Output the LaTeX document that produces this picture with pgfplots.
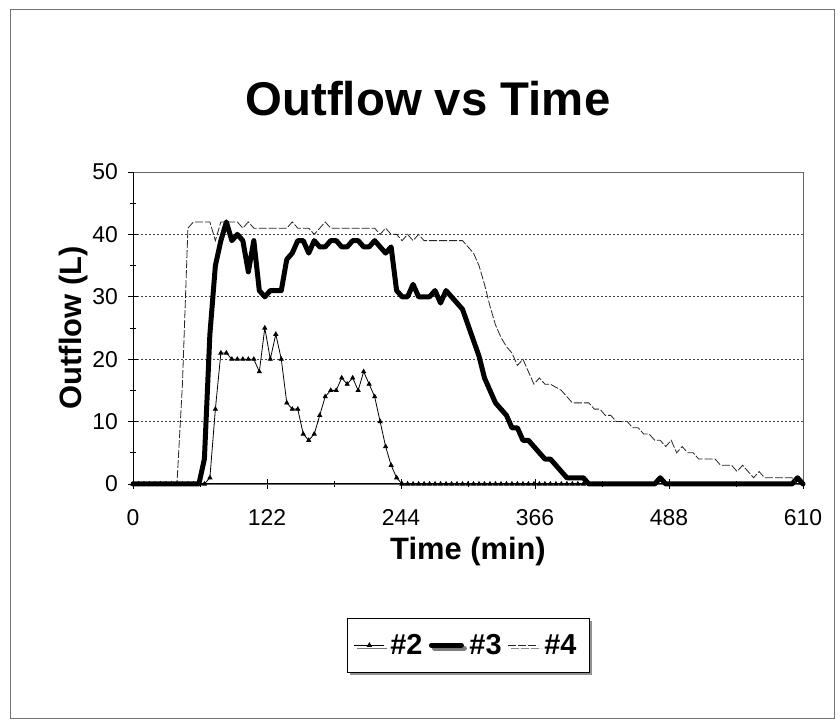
\documentclass[border=0pt]{standalone}
\usepackage{fontspec}
\setmainfont{Liberation Sans}
\usepackage{pgfplots}
\pgfplotsset{compat=1.18}
\usetikzlibrary{shadows}
\begin{document}
\begin{tikzpicture}[x=1bp,y=1bp]
\useasboundingbox (0,0) rectangle (840,727);
\fill[white] (0,0) rectangle (840,727);
\draw[black!55, line width=0.8bp] (10,9) rectangle (834,718);
\node[font=\fontsize{47.5}{50}\selectfont\bfseries, anchor=base, inner sep=0pt] at (428,611) {Outflow vs Time};
\begin{axis}[
  at={(133bp,243bp)}, anchor=south west, scale only axis,
  width=670bp, height=312bp,
  xmin=0, xmax=610, ymin=0, ymax=50,
  xtick={0,122,244,366,488,610}, ytick={0,10,...,50},
  minor x tick num=1, minor y tick num=1,
  tick align=center, xtick pos=bottom, ytick pos=left,
  major tick length=10bp, minor tick length=6bp,
  every tick/.style={black, line width=0.8bp},
  axis line style={black!60, line width=0.7bp},
  ymajorgrids, grid style={black!75, line width=0.8bp, dash pattern=on 1.5bp off 2.5bp},
  tick label style={font=\fontsize{23}{25}\selectfont},
  /pgf/number format/assume math mode=true,
  yticklabel style={inner sep=0pt, xshift=-10bp},
  xticklabel style={inner sep=0pt, yshift=-20bp},
  xlabel={Time (min)},
  xlabel style={font=\fontsize{31}{33}\selectfont\bfseries, at={(axis description cs:0.5,-0.2404)}, anchor=base, inner sep=0pt},
  ylabel={Outflow (L)},
  ylabel style={font=\fontsize{31}{33}\selectfont\bfseries, at={(axis description cs:-0.0776,0.5)}, anchor=base, inner sep=0pt},
  clip=false,
  legend columns=3,
  legend style={at={(axis description cs:0.5,-0.4295)}, anchor=north,
    draw=black, line width=0.8bp, fill=white,
    font=\fontsize{29}{31}\selectfont\bfseries,
    inner xsep=7bp, inner ysep=15bp,
    nodes={inner xsep=5.5bp, inner ysep=1bp},
    drop shadow={shadow xshift=3bp, shadow yshift=-3bp, fill=black!85},
    /tikz/every even column/.append style={column sep=1bp}},
  legend image code/.code={\draw[mark repeat=2,mark phase=2,#1] plot coordinates {(0bp,0bp) (15bp,0bp) (30bp,0bp)};},
]
% #2
\addplot[black, line width=0.8bp, mark=triangle*, mark size=2.3bp, mark options={solid, fill=black}] table {
t v
0 0
5 0
10 0
15 0
20 0
25 0
30 0
35 0
40 0
45 0
50 0
55 0
60 0
65 0
70 1
75 12
80 21
85 21
90 20
95 20
100 20
105 20
110 20
115 18
120 25
125 20
130 24
135 20
140 13
145 12
150 12
155 8
160 7
165 8
170 11
175 14
180 15
185 15
190 17
195 16
200 17
205 15
210 18
215 16
220 14
225 10
230 6
235 3
240 1
245 0
250 0
255 0
260 0
265 0
270 0
275 0
280 0
285 0
290 0
295 0
300 0
305 0
310 0
315 0
320 0
325 0
330 0
335 0
340 0
345 0
350 0
355 0
360 0
365 0
370 0
375 0
380 0
385 0
390 0
395 0
400 0
405 0
410 0
};
\addlegendentry{\#2}
% #3
\addplot[black, line width=5bp, line join=round, line cap=round] table {
t v
0 0
5 0
10 0
15 0
20 0
25 0
30 0
35 0
40 0
45 0
50 0
55 0
60 0
65 4
70 24
75 35
80 39
85 42
90 39
95 40
100 39
105 34
110 39
115 31
120 30
125 31
130 31
135 31
140 36
145 37
150 39
155 39
160 37
165 39
170 38
175 38
180 39
185 39
190 38
195 38
200 39
205 39
210 38
215 38
220 39
225 38
230 37
235 38
240 31
245 30
250 30
255 32
260 30
265 30
270 30
275 31
280 29
285 31
290 30
295 29
300 28
305 25.5
310 23
315 20.5
320 17
325 15
330 13
335 12
340 11
345 9
350 9
355 7
360 7
365 6
370 5
375 4
380 4
385 3
390 2
395 1
400 1
405 1
410 1
415 0
420 0
430 0
440 0
450 0
460 0
470 0
475 0
480 1
485 0
490 0
500 0
520 0
540 0
560 0
580 0
600 0
605 1
610 0
};
\addlegendentry{\#3}
% #4
\addplot[black!85, line width=0.8bp, dash pattern=on 8bp off 2bp] table {
t v
0 0
5 0
10 0
15 0
20 0
25 0
30 0
35 0
40 0
45 16
50 41
55 42
60 42
65 42
70 42
75 39
80 42
85 42
90 42
95 42
100 41
105 42
110 41
115 41
120 41
125 41
130 41
135 41
140 41
145 42
150 41
155 41
160 41
165 40
170 41
175 42
180 41
185 41
190 41
195 41
200 41
205 41
210 41
215 41
220 41
225 40
230 41
235 40
240 40
245 39
250 40
255 39
260 40
265 39
270 39
275 39
280 39
285 39
290 39
295 39
300 39
305 38
310 37
315 35
320 32
325 28.5
330 25.5
335 23.5
340 22
345 21
350 19
355 20
360 18
365 16
370 17
375 16
380 16
385 15.5
390 15
395 14
400 13
405 13
410 13
415 13
420 12
425 12
430 11
435 11
440 10
445 10
450 10
455 9
460 9
465 8
470 8
475 7
480 7
485 6
490 7
495 5
500 6
505 5
510 5
515 4
520 4
525 4
530 4
535 3
540 3
545 3
550 2
555 3
560 2
565 1
570 2
575 1
580 1
585 1
590 1
595 1
600 1
605 0
610 0
};
\addlegendentry{\#4}
\draw[black, line width=1bp] (rel axis cs:0,1) -- (rel axis cs:0,0) -- (rel axis cs:1,0);
\end{axis}
\end{tikzpicture}
\end{document}
